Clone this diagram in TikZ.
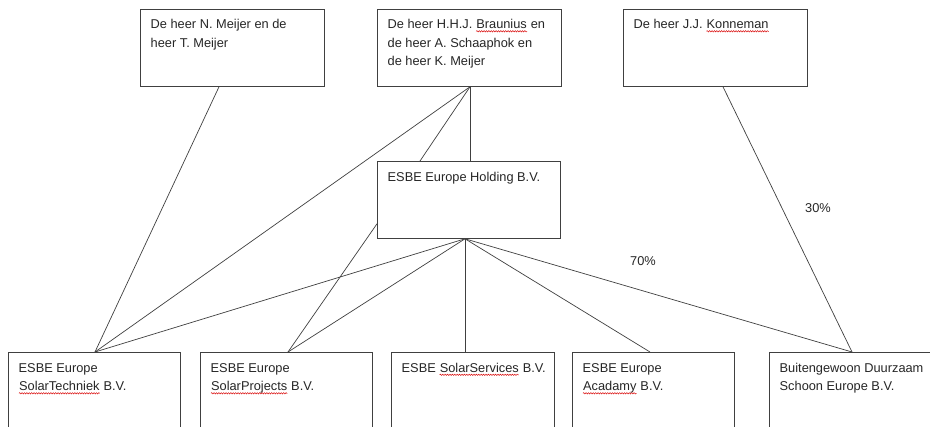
\documentclass[tikz,border=0pt]{standalone}
\usepackage{fontspec}
\setmainfont{Liberation Sans}
\usetikzlibrary{decorations.pathmorphing}
\newcommand\spellerr[1]{\tikz[baseline=(sw.base),x=1pt,y=1pt]{\node[inner sep=0pt,anchor=base] (sw) {#1};\draw[red!85!black, line width=0.45pt, decorate, decoration={snake, amplitude=0.7pt, segment length=2.4pt}] ([yshift=-2.6pt]sw.base west) -- ([yshift=-2.6pt]sw.base east);}}
\newcommand\toprule{\rule{0pt}{10pt}}
\begin{document}
\begin{tikzpicture}[x=1pt,y=-1pt,
  box/.style={draw=black!75, line width=0.8pt, anchor=north west, inner sep=0pt, minimum height=77pt},
  bbox/.style={draw=black!75, line width=0.8pt, anchor=north west, inner sep=0pt, minimum height=120pt},
  lbl/.style={anchor=north west, inner sep=0pt, align=left, font=\fontsize{12.8}{18.5}\selectfont, text=black!85},
  pct/.style={anchor=base west, inner sep=0pt, font=\fontsize{12.8}{18.5}\selectfont, text=black!85},
  link/.style={draw=black!75, line width=0.7pt}]
\clip (0,0) rectangle (930,427);
\fill[white] (0,0) rectangle (930,427);
% top row
\node[box, minimum width=184pt] (nm) at (140,9) {};
\node[box, minimum width=184pt] (hb) at (377,9) {};
\node[box, minimum width=184pt] (jk) at (623,9) {};
% holding
\node[box, minimum width=183pt] (ho) at (377,161) {};
% bottom row
\node[bbox, minimum width=172pt] (st) at (8,352) {};
\node[bbox, minimum width=172pt] (sp) at (200,352) {};
\node[bbox, minimum width=163pt] (ss) at (391,352) {};
\node[bbox, minimum width=162pt] (ac) at (572,352) {};
\node[bbox, minimum width=175pt] (bd) at (769,352) {};
% texts
\node[lbl] (nmT) at ([shift={(10.5pt,-9.5pt)}]nm.north west) {\toprule De heer N. Meijer en de\\heer T. Meijer};
\node[lbl] (hbT) at ([shift={(10.5pt,-9.5pt)}]hb.north west) {\toprule De heer H.H.J. \spellerr{Braunius} en\\de heer A. Schaaphok en\\de heer K. Meijer};
\node[lbl] (jkT) at ([shift={(10.5pt,-9.5pt)}]jk.north west) {\toprule De heer J.J. \spellerr{Konneman}};
\node[lbl] (hoT) at ([shift={(10.5pt,-10pt)}]ho.north west) {\toprule ESBE Europe Holding B.V.};
\node[lbl] (stT) at ([shift={(10.5pt,-10pt)}]st.north west) {\toprule ESBE Europe\\\spellerr{SolarTechniek} B.V.};
\node[lbl] (spT) at ([shift={(10.5pt,-10pt)}]sp.north west) {\toprule ESBE Europe\\\spellerr{SolarProjects} B.V.};
\node[lbl] (ssT) at ([shift={(10.5pt,-10pt)}]ss.north west) {\toprule ESBE \spellerr{SolarServices} B.V.};
\node[lbl] (acT) at ([shift={(10.5pt,-10pt)}]ac.north west) {\toprule ESBE Europe\\\spellerr{Acadamy} B.V.};
\node[lbl] (bdT) at ([shift={(10.5pt,-10pt)}]bd.north west) {\toprule Buitengewoon Duurzaam\\Schoon Europe B.V.};
% percentages
\node[pct] (p30) at (805,213) {30\%};
\node[pct] (p70) at (630,266) {70\%};
% connectors
\draw[link] ([xshift=79pt]nm.south west) -- ([xshift=87pt]st.north west);
\draw[link] ([xshift=93pt]hb.south west) -- ([xshift=87pt]st.north west);
\draw[link] ([xshift=93pt]hb.south west) -- ([xshift=43pt]ho.north west);
\draw[link] ([xshift=93pt]hb.south west) -- ([xshift=93pt]ho.north west);
\draw[link] ([xshift=100pt]jk.south west) -- ([xshift=83pt]bd.north west);
\draw[link] ([yshift=15pt]ho.south west) -- ([xshift=88pt]sp.north west);
\draw[link] ([xshift=88pt]ho.south west) -- ([xshift=87pt]st.north west);
\draw[link] ([xshift=88pt]ho.south west) -- ([xshift=88pt]sp.north west);
\draw[link] ([xshift=88pt]ho.south west) -- ([xshift=74pt]ss.north west);
\draw[link] ([xshift=88pt]ho.south west) -- ([xshift=78pt]ac.north west);
\draw[link] ([xshift=88pt]ho.south west) -- ([xshift=83pt]bd.north west);
\end{tikzpicture}
\end{document}
